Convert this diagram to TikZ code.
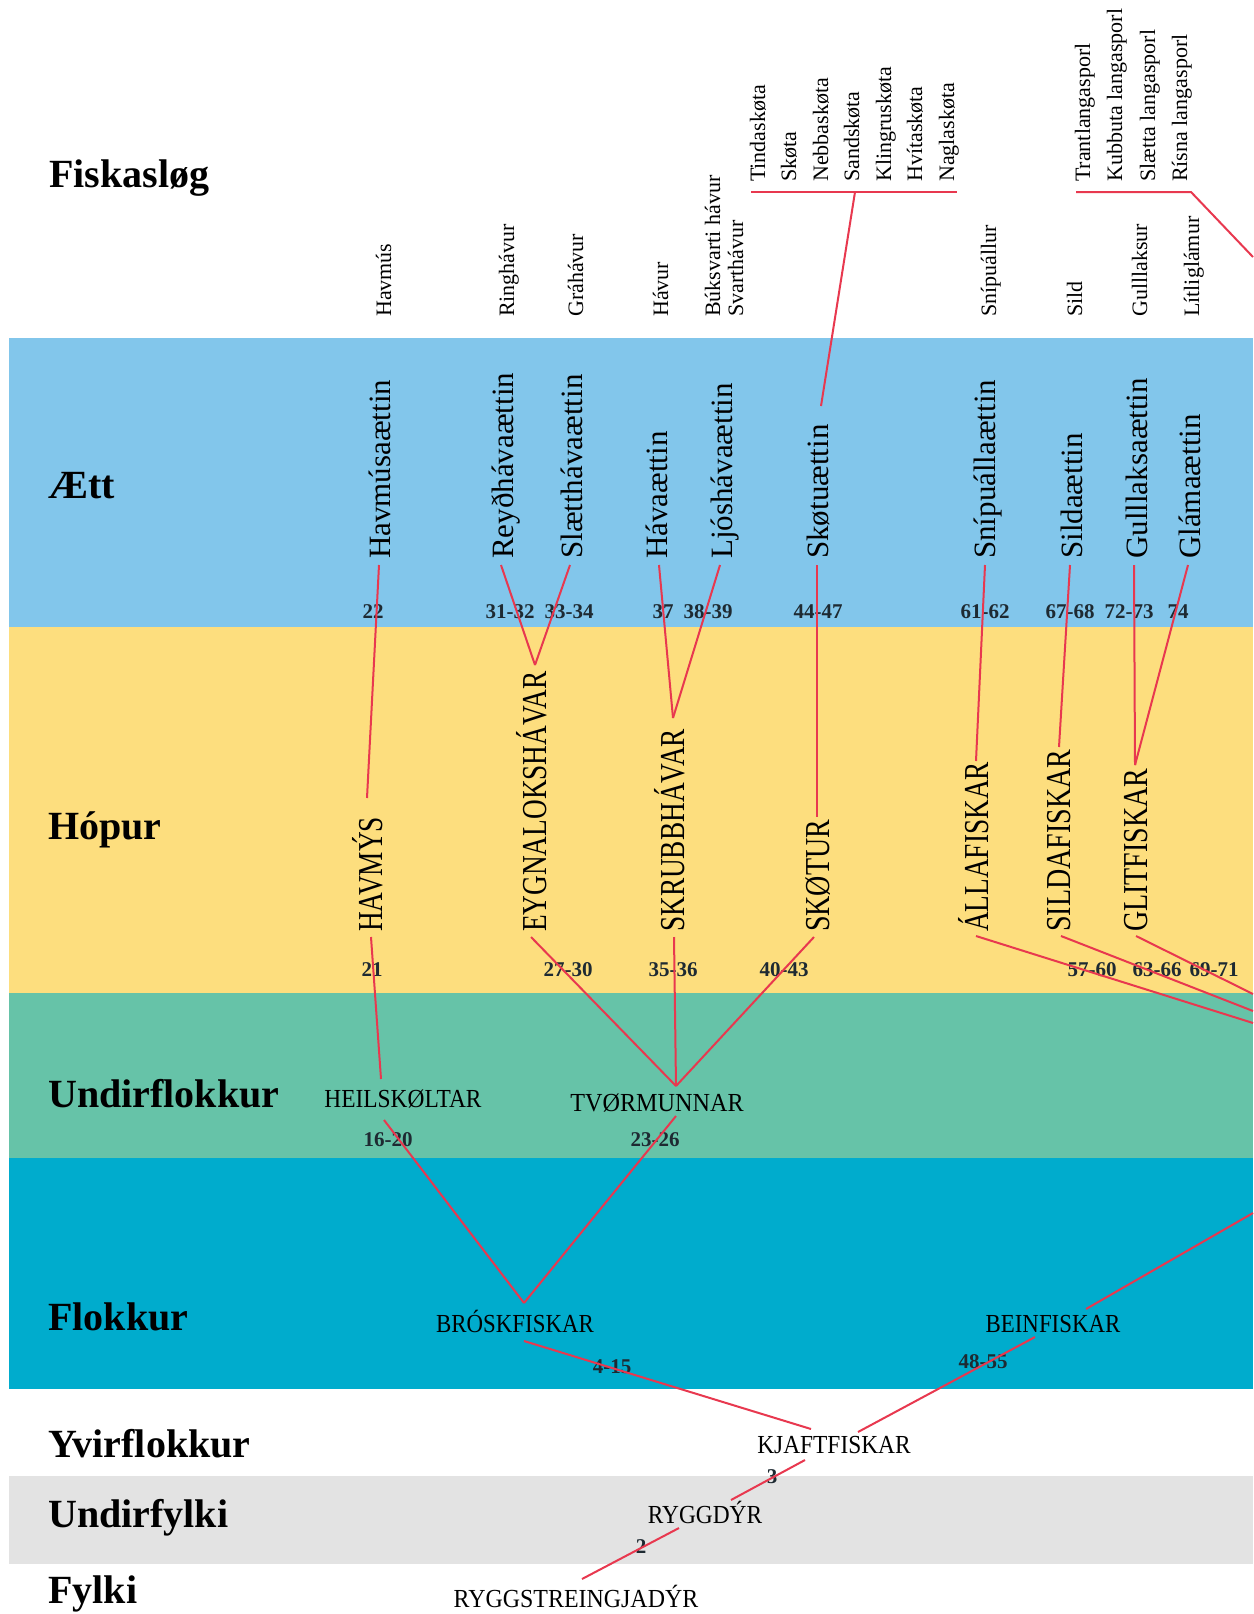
\documentclass[tikz,border=0pt]{standalone}
\usepackage{fontspec}
\usepackage{graphicx}
\setmainfont{Liberation Serif}
\usetikzlibrary{calc}
\definecolor{aettblue}{HTML}{82C6EB}
\definecolor{hopyellow}{HTML}{FDDE7E}
\definecolor{undirteal}{HTML}{66C3A8}
\definecolor{flokcyan}{HTML}{00ACCD}
\definecolor{fylgrey}{HTML}{E3E3E3}
\definecolor{redline}{HTML}{E8384F}
\definecolor{numcol}{HTML}{1E2A32}
\newcommand{\cnd}[2]{\scalebox{#1}[1]{#2}}
\begin{document}
\begin{tikzpicture}[x=1pt,y=-1pt,
  rank/.style={anchor=base west, inner sep=0pt, font=\fontsize{40}{48}\selectfont\bfseries},
  sp/.style={rotate=90, anchor=base west, inner sep=0pt, font=\fontsize{22}{26}\selectfont},
  aett/.style={rotate=90, anchor=base west, inner sep=0pt, font=\fontsize{31}{37}\selectfont},
  hop/.style={rotate=90, anchor=base west, inner sep=0pt, font=\fontsize{35}{42}\selectfont},
  grp/.style={anchor=base, inner sep=0pt, font=\fontsize{26}{31}\selectfont},
  num/.style={anchor=center, inner sep=0pt, text=numcol, font=\fontsize{21}{25}\selectfont\bfseries},
  link/.style={draw=redline, line width=2pt}]
\useasboundingbox (0,0) rectangle (1253,1614);
\fill[white] (0,0) rectangle (1253,1614);
% bands
\fill[aettblue] (9,338) rectangle (1253,627);
\fill[hopyellow] (9,627) rectangle (1253,993);
\fill[undirteal] (9,993) rectangle (1253,1158);
\fill[flokcyan] (9,1158) rectangle (1253,1389);
\fill[fylgrey] (9,1476) rectangle (1253,1564);
% rank labels
\node[rank] (rFisk) at (49,187) {Fiskasløg};
\node[rank] (rAett) at (48,498) {Ætt};
\node[rank] (rHop) at (48,839) {Hópur};
\node[rank] (rUndf) at (48,1107) {Undirflokkur};
\node[rank] (rFlok) at (48,1330) {Flokkur};
\node[rank] (rYvir) at (48,1457) {Yvirflokkur};
\node[rank] (rUfyl) at (48,1527) {Undirfylki};
\node[rank] (rFyl) at (48,1603) {Fylki};
% species (Fiskaslog)
\node[sp] (sHavmus) at (391,317) {Havmús};
\node[sp] (sRing) at (514,317) {Ringhávur};
\node[sp] (sGra) at (583,317) {Gráhávur};
\node[sp] (sHavur) at (668,317) {Hávur};
\node[sp] (sBuk) at (720,317) {Búksvarti hávur};
\node[sp] (sSvart) at (743,317) {Svarthávur};
\node[sp] (sSnipu) at (996,317) {Snípuállur};
\node[sp] (sSild) at (1082,317) {Sild};
\node[sp] (sGull) at (1147,317) {Gulllaksur};
\node[sp] (sLitli) at (1199,317) {Lítliglámur};
\node[sp] (sTinda) at (765,182) {Tindaskøta};
\node[sp] (sSkota) at (796,182) {Skøta};
\node[sp] (sNebba) at (828,182) {Nebbaskøta};
\node[sp] (sSand) at (859,182) {Sandskøta};
\node[sp] (sKling) at (891,182) {Klingruskøta};
\node[sp] (sHvita) at (922,182) {Hvítaskøta};
\node[sp] (sNagla) at (954,182) {Naglaskøta};
\node[sp] (sTrant) at (1090,182) {Trantlangasporl};
\node[sp] (sKubb) at (1122,182) {Kubbuta langasporl};
\node[sp] (sSlaett) at (1155,182) {Slætta langasporl};
\node[sp] (sRisna) at (1187,182) {Rísna langasporl};
% Aett
\node[aett] (aHavmus) at (390,559) {Havmúsaættin};
\node[aett] (aReyd) at (513,559) {Reyðhávaættin};
\node[aett] (aSlaett) at (582,559) {Slætthávaættin};
\node[aett] (aHava) at (667,559) {Hávaættin};
\node[aett] (aLjos) at (732,559) {Ljóshávaættin};
\node[aett] (aSkotu) at (828,559) {Skøtuættin};
\node[aett] (aSnipu) at (995,559) {Snípuállaættin};
\node[aett] (aSilda) at (1082,559) {Sildaættin};
\node[aett] (aGull) at (1147,559) {Gulllaksaættin};
\node[aett] (aGlama) at (1200,559) {Glámaættin};
% Hopur
\node[hop] (hHav) at (382,932) {\cnd{0.78}{HAVMÝS}};
\node[hop] (hEygna) at (546,932) {\cnd{0.78}{EYGNALOKSHÁVAR}};
\node[hop] (hSkrubb) at (684,932) {\cnd{0.78}{SKRUBBHÁVAR}};
\node[hop] (hSkotur) at (829,932) {\cnd{0.8}{SKØTUR}};
\node[hop] (hAlla) at (988,932) {\cnd{0.78}{ÁLLAFISKAR}};
\node[hop] (hSilda) at (1070,932) {\cnd{0.8}{SILDAFISKAR}};
\node[hop] (hGlit) at (1147,932) {\cnd{0.8}{GLITFISKAR}};
% lower levels
\node[grp] (uHeil) at (403,1107) {\cnd{0.9}{HEILSKØLTAR}};
\node[grp] (uTvor) at (657,1111) {\cnd{0.93}{TVØRMUNNAR}};
\node[grp] (fBrosk) at (515,1332) {\cnd{0.88}{BRÓSKFISKAR}};
\node[grp] (fBein) at (1053,1332) {\cnd{0.88}{BEINFISKAR}};
\node[grp] (yKjaft) at (834,1453) {\cnd{0.9}{KJAFTFISKAR}};
\node[grp] (uRygg) at (705,1523) {\cnd{0.9}{RYGGDÝR}};
\node[grp] (fRygg) at (576,1607) {\cnd{0.92}{RYGGSTREINGJADÝR}};
% numbers
\node[num] (n22) at (373,612) {22};
\node[num] (n3132) at (510,612) {31-32};
\node[num] (n3334) at (569,612) {33-34};
\node[num] (n37) at (663,612) {37};
\node[num] (n3839) at (708,612) {38-39};
\node[num] (n4447) at (818,612) {44-47};
\node[num] (n6162) at (985,612) {61-62};
\node[num] (n6768) at (1070,612) {67-68};
\node[num] (n7273) at (1129,612) {72-73};
\node[num] (n74) at (1178,612) {74};
\node[num] (n21) at (372,970) {21};
\node[num] (n2730) at (568,970) {27-30};
\node[num] (n3536) at (673,970) {35-36};
\node[num] (n4043) at (784,970) {40-43};
\node[num] (n5760) at (1092,970) {57-60};
\node[num] (n6366) at (1157,970) {63-66};
\node[num] (n6971) at (1214,970) {69-71};
\node[num] (n1620) at (388,1140) {16-20};
\node[num] (n2326) at (655,1140) {23-26};
\node[num] (n415) at (612,1367) {4-15};
\node[num] (n4855) at (983,1362) {48-55};
\node[num] (n3) at (772,1477) {3};
\node[num] (n2) at (641,1547) {2};
% free-end coordinates
\coordinate (skL) at (751,192);
\coordinate (skR) at (957,192);
\coordinate (skM) at (855,192);
\coordinate (lgL) at (1076,192);
\coordinate (lgC) at (1191,192);
\coordinate (lgE) at (1253,257);
\coordinate (eAlla) at (1253,1023);
\coordinate (eSilda) at (1253,1011);
\coordinate (eGlit) at (1253,994);
\coordinate (eBein) at (1253,1213);
% connectors
\draw[link] (skL) -- (skR);
\draw[link] (skM) -- ($(aSkotu.base west)+(-7,-153)$);
\draw[link] (lgL) -- (lgC) -- (lgE);
\draw[link] ($(aHavmus.base west)+(-11,6)$) -- ($(hHav.base west)+(-15,-134)$);
\draw[link] ($(aReyd.base west)+(-12,6)$) -- ($(hEygna.base west)+(-11,-267)$);
\draw[link] ($(aSlaett.base west)+(-12,6)$) -- ($(hEygna.base west)+(-11,-267)$);
\draw[link] ($(aHava.base west)+(-8,6)$) -- ($(hSkrubb.base west)+(-11,-214)$);
\draw[link] ($(aLjos.base west)+(-12,6)$) -- ($(hSkrubb.base west)+(-11,-214)$);
\draw[link] ($(aSkotu.base west)+(-11,6)$) -- ($(hSkotur.base west)+(-12,-115)$);
\draw[link] ($(aSnipu.base west)+(-10,6)$) -- ($(hAlla.base west)+(-12,-171)$);
\draw[link] ($(aSilda.base west)+(-12,6)$) -- ($(hSilda.base west)+(-11,-185)$);
\draw[link] ($(aGull.base west)+(-13,6)$) -- ($(hGlit.base west)+(-12,-167)$);
\draw[link] ($(aGlama.base west)+(-12,6)$) -- ($(hGlit.base west)+(-12,-167)$);
\draw[link] ($(hHav.base west)+(-11,5)$) -- ($(uHeil.base)+(-22,-28)$);
\draw[link] ($(hEygna.base west)+(-15,5)$) -- ($(uTvor.base)+(19,-25)$);
\draw[link] ($(hSkrubb.base west)+(-10,5)$) -- ($(uTvor.base)+(19,-25)$);
\draw[link] ($(hSkotur.base west)+(-15,5)$) -- ($(uTvor.base)+(19,-25)$);
\draw[link] ($(hAlla.base west)+(-12,4)$) -- (eAlla);
\draw[link] ($(hSilda.base west)+(-9,4)$) -- (eSilda);
\draw[link] ($(hGlit.base west)+(-11,4)$) -- (eGlit);
\draw[link] ($(uHeil.base)+(-19,13)$) -- ($(fBrosk.base)+(9,-29)$);
\draw[link] ($(uTvor.base)+(19,5)$) -- ($(fBrosk.base)+(9,-29)$);
\draw[link] ($(fBein.base)+(33,-23)$) -- (eBein);
\draw[link] ($(fBrosk.base)+(9,9)$) -- ($(yKjaft.base)+(-23,-24)$);
\draw[link] ($(fBein.base)+(-18,5)$) -- ($(yKjaft.base)+(24,-21)$);
\draw[link] ($(yKjaft.base)+(-29,7)$) -- ($(uRygg.base)+(26,-23)$);
\draw[link] ($(uRygg.base)+(-26,5)$) -- ($(fRygg.base)+(6,-28)$);
\end{tikzpicture}
\end{document}
